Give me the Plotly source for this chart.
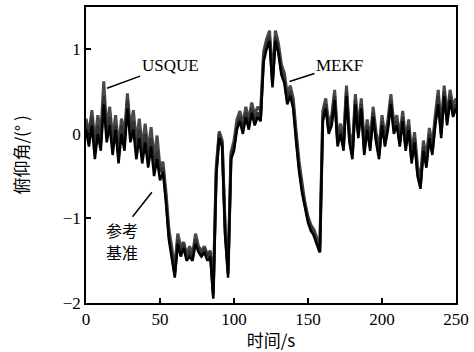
import plotly.graph_objects as go

time_s = list(range(0, 251, 2))

reference = [0.05, -0.15, 0.1, -0.3, 0.0, -0.2, 0.35, -0.1, 0.1, -0.25,
             0.05, -0.35, 0.0, -0.2, 0.3, -0.1, 0.05, -0.3, -0.05, -0.35,
             -0.1, -0.4, -0.15, -0.5, -0.3, -0.55, -0.45, -0.8, -1.25, -1.45,
             -1.7, -1.3, -1.45, -1.35, -1.5, -1.45, -1.5, -1.3, -1.4, -1.45,
             -1.4, -1.5, -1.45, -1.95, -0.5, -0.05, -0.15, -1.2, -1.7, -0.3,
             -0.2, 0.05, 0.15, 0.0, 0.2, 0.05, 0.25, 0.1, 0.2, 0.15,
             0.85, 1.0, 1.1, 0.55, 1.1, 0.95, 0.7, 0.6, 0.35, 0.45,
             0.3, -0.1, -0.45, -0.7, -0.9, -1.05, -1.15, -1.2, -1.3, -1.4,
             0.15, 0.3, 0.0, 0.1, 0.4, -0.15, 0.0, -0.2, 0.45, -0.1,
             -0.3, 0.35, -0.05, 0.3, -0.25, 0.05, -0.2, 0.2, -0.1, -0.3,
             0.1, -0.15, 0.05, 0.35, 0.0, 0.1, -0.15, 0.15, -0.2, 0.05,
             -0.35, -0.1, -0.5, -0.65, -0.2, -0.4, -0.05, -0.25, 0.1, 0.35,
             -0.05, 0.45, 0.1, 0.4, 0.2, 0.3]

usque = [0.18, 0.0, 0.28, -0.1, 0.22, 0.0, 0.62, 0.05, 0.32, -0.05,
         0.22, -0.15, 0.18, 0.0, 0.48, 0.05, 0.28, -0.1, 0.18, -0.15,
         0.12, -0.2, 0.08, -0.3, -0.02, -0.4, -0.33, -0.68, -1.12, -1.38,
         -1.58, -1.18, -1.33, -1.28, -1.43, -1.33, -1.43, -1.18, -1.33, -1.38,
         -1.33, -1.43, -1.38, -1.85, -0.38, 0.03, -0.08, -1.08, -1.6, -0.22,
         -0.08, 0.17, 0.27, 0.12, 0.32, 0.17, 0.37, 0.22, 0.32, 0.27,
         0.97, 1.12, 1.22, 0.67, 1.22, 1.07, 0.82, 0.72, 0.47, 0.57,
         0.42, 0.02, -0.33, -0.58, -0.83, -0.98, -1.08, -1.13, -1.23, -1.33,
         0.27, 0.42, 0.12, 0.22, 0.52, -0.03, 0.12, -0.08, 0.57, 0.02,
         -0.18, 0.47, 0.07, 0.42, -0.13, 0.17, -0.08, 0.32, 0.02, -0.18,
         0.22, -0.03, 0.17, 0.47, 0.12, 0.22, -0.03, 0.27, -0.08, 0.17,
         -0.23, 0.02, -0.38, -0.53, -0.08, -0.28, 0.07, -0.13, 0.22, 0.52,
         0.07, 0.57, 0.22, 0.52, 0.32, 0.42]

mekf = [0.1, -0.05, 0.2, -0.2, 0.1, -0.1, 0.45, 0.0, 0.2, -0.15,
        0.1, -0.25, 0.1, -0.1, 0.4, 0.0, 0.15, -0.2, 0.05, -0.25,
        0.0, -0.3, -0.05, -0.4, -0.2, -0.45, -0.4, -0.75, -1.2, -1.4,
        -1.65, -1.25, -1.4, -1.3, -1.45, -1.4, -1.45, -1.25, -1.35, -1.45,
        -1.35, -1.45, -1.4, -1.9, -0.45, 0.0, -0.1, -1.15, -1.65, -0.25,
        -0.15, 0.1, 0.2, 0.05, 0.25, 0.1, 0.3, 0.15, 0.25, 0.2,
        0.9, 1.05, 1.15, 0.6, 1.15, 1.0, 0.75, 0.65, 0.4, 0.5,
        0.35, -0.05, -0.4, -0.65, -0.85, -1.0, -1.1, -1.2, -1.3, -1.4,
        0.2, 0.35, 0.05, 0.15, 0.45, -0.1, 0.05, -0.15, 0.5, -0.05,
        -0.25, 0.4, 0.0, 0.35, -0.2, 0.1, -0.15, 0.25, -0.05, -0.25,
        0.15, -0.1, 0.1, 0.4, 0.05, 0.15, -0.1, 0.2, -0.15, 0.1,
        -0.3, -0.05, -0.45, -0.6, -0.15, -0.35, 0.0, -0.2, 0.15, 0.45,
        0.0, 0.5, 0.15, 0.45, 0.25, 0.35]

x_ticks = [0, 50, 100, 150, 200, 250]
y_ticks = [-2, -1, 0, 1]

serif = "Liberation Serif, Times New Roman, serif"
cjk = "Noto Sans CJK SC, sans-serif"

fig = go.Figure()
fig.add_trace(go.Scatter(x=time_s, y=usque, mode="lines", name="USQUE",
                         line=dict(color="#4a4a4a", width=3)))
fig.add_trace(go.Scatter(x=time_s, y=mekf, mode="lines", name="MEKF",
                         line=dict(color="#333333", width=3)))
fig.add_trace(go.Scatter(x=time_s, y=reference, mode="lines", name="参考基准",
                         line=dict(color="#000000", width=2.5)))

fig.update_layout(
    width=474, height=352,
    margin=dict(l=86, r=17, t=5, b=49),
    paper_bgcolor="white", plot_bgcolor="white",
    showlegend=False,
    font=dict(family=serif, size=17, color="black"),
)
fig.update_xaxes(range=[0, 250], tickvals=x_ticks, ticks="inside", ticklen=5,
                 tickwidth=1.5, tickcolor="black", showline=True, linewidth=1.5,
                 linecolor="black", mirror=True, showgrid=False, zeroline=False,
                 title=dict(text="时间/s", font=dict(family=cjk, size=17), standoff=0),
                 tickfont=dict(family=serif, size=17))
fig.update_yaxes(range=[-2, 1.5], tickvals=y_ticks, ticks="inside", ticklen=5,
                 tickwidth=1.5, tickcolor="black", showline=True, linewidth=1.5,
                 linecolor="black", mirror=True, showgrid=False, zeroline=False,
                 title=dict(text="俯仰角/(° )", font=dict(family=cjk, size=17), standoff=30),
                 tickfont=dict(family=serif, size=17))

fig.add_annotation(x=14.2, y=0.54, ax=63, ay=-23, text="USQUE", showarrow=True,
                   arrowhead=0, arrowwidth=1.5, arrowcolor="black",
                   font=dict(family=serif, size=17, color="black"))
fig.add_annotation(x=137.5, y=0.62, ax=50, ay=-16, text="MEKF", showarrow=True,
                   arrowhead=0, arrowwidth=1.5, arrowcolor="black",
                   font=dict(family=serif, size=17, color="black"))
fig.add_annotation(x=44.5, y=-0.69, ax=-30, ay=38, text="参考", showarrow=True,
                   arrowhead=0, arrowwidth=1.5, arrowcolor="black",
                   font=dict(family=cjk, size=16, color="black"))
fig.add_annotation(x=44.5, y=-0.69, xshift=-30, yshift=-60, text="基准", showarrow=False,
                   font=dict(family=cjk, size=16, color="black"))

fig.write_html("out.html", config={"displayModeBar": False},
               post_script="document.body.style.margin='0';document.body.style.padding='0';")
